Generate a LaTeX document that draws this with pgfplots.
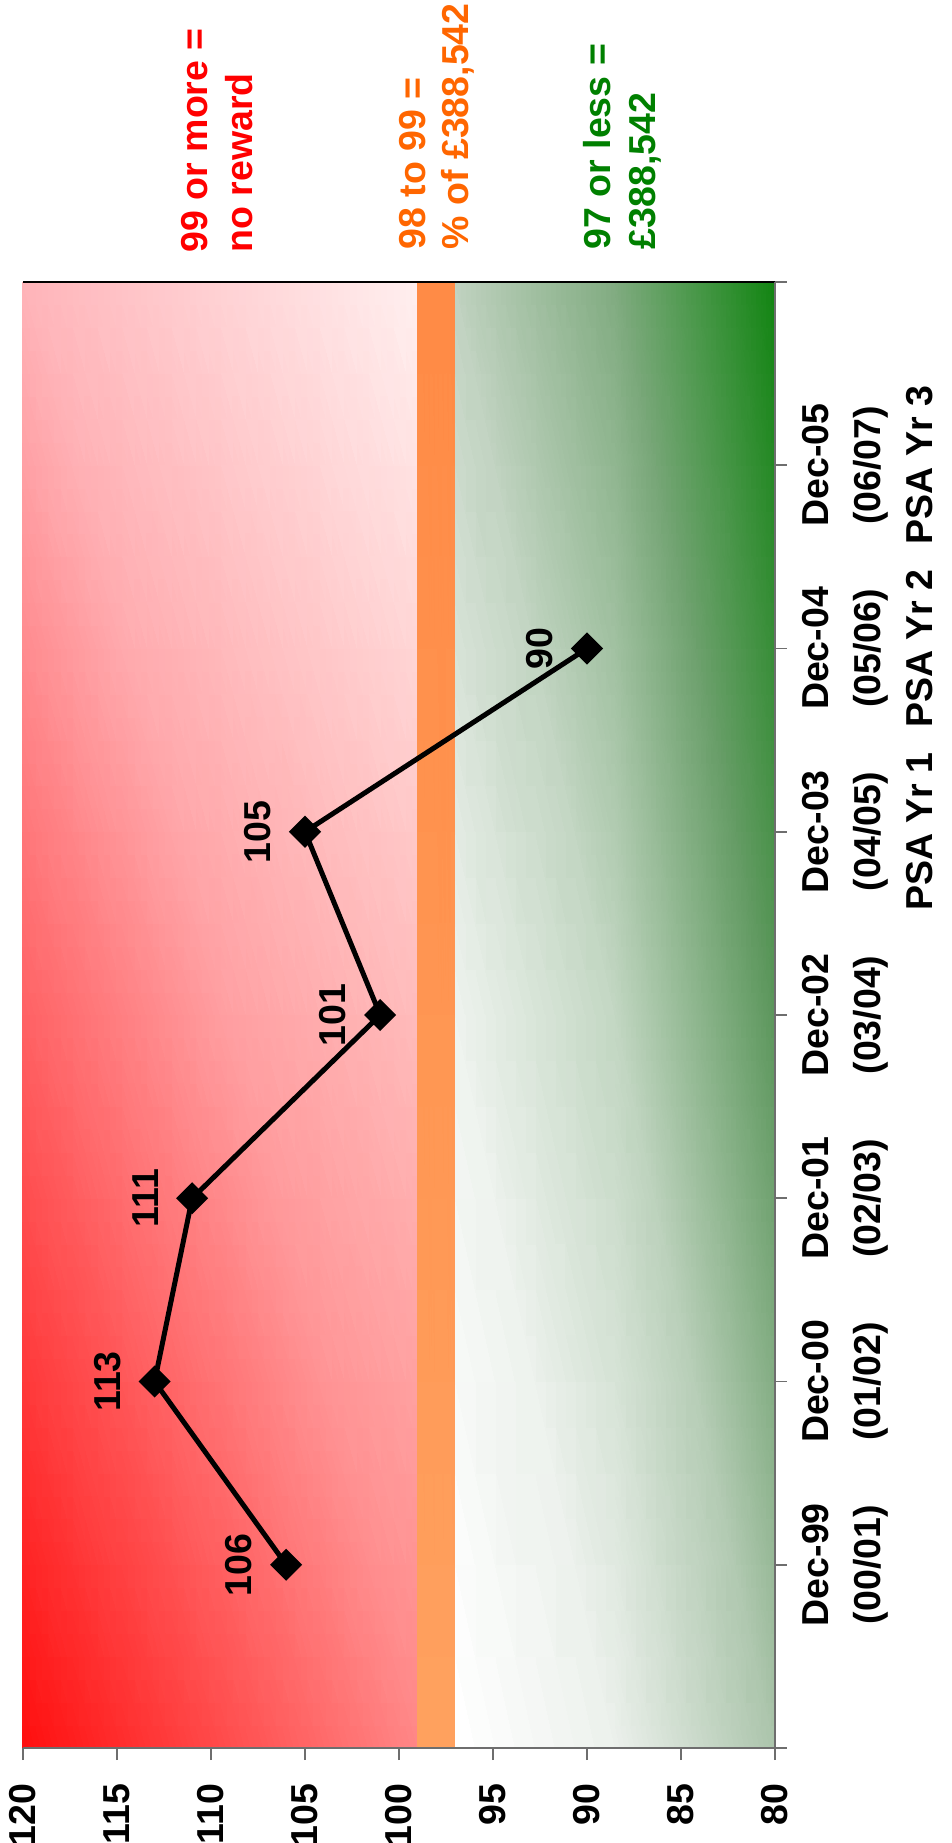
\documentclass[border=0pt]{standalone}
\usepackage{pgfplots}
\pgfplotsset{compat=1.18}
\usepackage{fontspec}
\setmainfont{Liberation Sans}
\definecolor{txtred}{RGB}{255,0,0}
\definecolor{txtorange}{RGB}{255,102,0}
\definecolor{txtgreen}{RGB}{0,128,0}
\definecolor{axgray}{RGB}{110,110,110}
\newcommand{\chfont}{\fontsize{11.25}{13.5}\selectfont\bfseries}
\newcommand{\catfont}{\fontsize{11.25}{15.6}\selectfont\bfseries}
\begin{document}
\begin{tikzpicture}
\useasboundingbox (-6.9pt,-28.5pt) rectangle (278.7pt,524.4pt);
\begin{axis}[
  scale only axis, width=225.6pt, height=439.8pt,
  at={(0pt,0pt)}, anchor=south west,
  xmin=80, xmax=120, x dir=reverse,
  ymin=-1, ymax=7,
  axis x line*=bottom, axis y line*=right,
  axis line style={-, draw=axgray, line width=0.6pt},
  xtick={80,85,...,120},
  ytick={-1,0,...,7},
  yticklabels={{},{Dec-99\\(00/01)},{Dec-00\\(01/02)},{Dec-01\\(02/03)},{Dec-02\\(03/04)},{Dec-03\\(04/05)\\PSA Yr 1},{Dec-04\\(05/06)\\PSA Yr 2},{Dec-05\\(06/07)\\PSA Yr 3},{}},
  tick align=outside, major tick length=3.6pt,
  tick style={axgray, line width=0.5pt},
  /pgf/number format/assume math mode=true,
  xticklabel style={rotate=90, anchor=east, inner sep=0pt, font=\chfont},
  xticklabel shift=7pt,
  yticklabel style={rotate=90, anchor=north, align=center, inner sep=0pt, font=\catfont},
  yticklabel shift=4.3pt,
  axis on top,
  point meta min=0, point meta max=1,
]
% red zone
\addplot[patch, patch type=rectangle, shader=interp, mesh/color input=explicit, forget plot] table[meta=c] {
x y c
120 -1 1,0.06,0.06
99 -1 1,0.53,0.53
99 7 1,0.94,0.94
120 7 1,0.71,0.73
};
% orange band
\addplot[patch, patch type=rectangle, shader=interp, mesh/color input=explicit, forget plot] table[meta=c] {
x y c
99 -1 1,0.63,0.37
97 -1 1,0.63,0.37
97 7 1,0.54,0.27
99 7 1,0.54,0.27
};
% green zone
\addplot[patch, patch type=rectangle, shader=interp, mesh/color input=explicit, forget plot] table[meta=c] {
x y c
97 -1 1,1,1
88.5 -1 0.92,0.94,0.92
88.5 3 0.76,0.84,0.76
97 3 0.93,0.95,0.93
88.5 -1 0.92,0.94,0.92
80 -1 0.67,0.77,0.67
80 3 0.36,0.59,0.36
88.5 3 0.76,0.84,0.76
97 3 0.93,0.95,0.93
88.5 3 0.76,0.84,0.76
88.5 7 0.50,0.67,0.50
97 7 0.75,0.82,0.75
88.5 3 0.76,0.84,0.76
80 3 0.36,0.59,0.36
80 7 0.07,0.52,0.07
88.5 7 0.50,0.67,0.50
};
% data
\addplot[black, line width=1.5pt, mark=square*, mark size=2.65pt,
  mark options={rotate=45, solid, fill=black},
  point meta=x, nodes near coords,
  every node near coord/.append style={rotate=90, anchor=south, inner sep=0pt, outer sep=0pt, outer ysep=10.2pt, font=\chfont, text=black}]
  coordinates {(106,0) (113,1) (111,2) (101,3) (105,4) (90,5)};
\draw[black, line width=0.8pt] (rel axis cs:0,1) -- (rel axis cs:1,1);
\end{axis}
\node[rotate=90, anchor=base west, inner sep=0pt, text=txtred, font=\chfont] at (55.2pt,448.5pt) {99 or more =};
\node[rotate=90, anchor=base west, inner sep=0pt, text=txtred, font=\chfont] at (68.7pt,448.5pt) {no reward};
\node[rotate=90, anchor=base west, inner sep=0pt, text=txtorange, font=\chfont] at (120.6pt,449.4pt) {98 to 99 =};
\node[rotate=90, anchor=base west, inner sep=0pt, text=txtorange, font=\chfont] at (133.5pt,449.4pt) {\% of £388,542};
\node[rotate=90, anchor=base west, inner sep=0pt, text=txtgreen, font=\chfont] at (176.1pt,449.4pt) {97 or less =};
\node[rotate=90, anchor=base west, inner sep=0pt, text=txtgreen, font=\chfont] at (189.6pt,449.4pt) {£388,542};
\end{tikzpicture}
\end{document}
